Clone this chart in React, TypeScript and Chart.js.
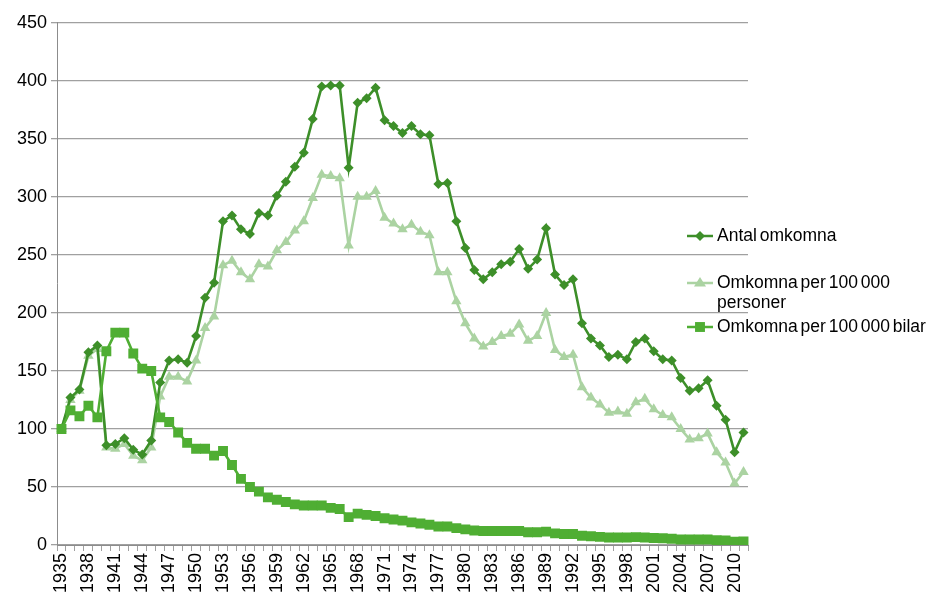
import { useEffect, useRef } from 'react';
import { Chart, registerables } from 'chart.js';

Chart.register(...registerables);

const years = [
  '1935','1936','1937','1938','1939','1940','1941','1942','1943','1944',
  '1945','1946','1947','1948','1949','1950','1951','1952','1953','1954',
  '1955','1956','1957','1958','1959','1960','1961','1962','1963','1964',
  '1965','1966','1967','1968','1969','1970','1971','1972','1973','1974',
  '1975','1976','1977','1978','1979','1980','1981','1982','1983','1984',
  '1985','1986','1987','1988','1989','1990','1991','1992','1993','1994',
  '1995','1996','1997','1998','1999','2000','2001','2002','2003','2004',
  '2005','2006','2007','2008','2009','2010','2011',
];

const antalOmkomna = [
  100, 127, 134, 166, 172, 86, 87, 92, 82, 78,
  90, 140, 159, 160, 157, 180, 213, 226, 279, 284,
  272, 268, 286, 284, 301, 313, 326, 338, 367, 395,
  396, 396, 325, 381, 385, 394, 366, 361, 355, 361,
  354, 353, 311, 312, 279, 256, 237, 229, 235, 242,
  244, 255, 238, 246, 273, 233, 224, 229, 191, 178,
  172, 162, 164, 160, 175, 178, 167, 160, 159, 144,
  133, 135, 142, 120, 108, 80, 97,
];

const perPersoner = [
  100, 125, 133, 163, 169, 84, 83, 87, 77, 73,
  84, 128, 145, 145, 141, 159, 187, 197, 241, 245,
  235, 229, 242, 240, 254, 261, 271, 279, 299, 319,
  318, 316, 258, 300, 300, 305, 282, 277, 272, 276,
  270, 267, 235, 235, 210, 191, 178, 171, 175, 180,
  182, 190, 176, 180, 200, 168, 162, 164, 136, 127,
  121, 114, 115, 113, 123, 126, 117, 112, 110, 100,
  91, 92, 96, 80, 71, 53, 63,
];

const perBilar = [
  100, 116, 111, 120, 110, 167, 183, 183, 165, 152,
  150, 110, 106, 97, 88, 83, 83, 77, 81, 69,
  57, 50, 46, 41, 39, 37, 35, 34, 34, 34,
  32, 31, 24, 27, 26, 25, 23, 22, 21, 19.5,
  18.5, 17.5, 16, 16, 14.5, 13.5, 12.5, 12, 12, 12,
  12, 12, 11, 11, 11.5, 10, 9.5, 9.5, 8, 7.5,
  7, 6.5, 6.5, 6.5, 6.8, 6.5, 6, 5.8, 5.4, 4.8,
  4.8, 4.8, 4.8, 4.2, 4, 2.8, 3.1,
];

const seriesNames = ['Antal omkomna', 'Omkomna per 100 000 personer', 'Omkomna per 100 000 bilar'];
const legendLines = [['Antal omkomna'], ['Omkomna per 100 000', 'personer'], ['Omkomna per 100 000 bilar']];

const C_ANTAL = '#3d8f29';
const C_PERS = '#abd3a2';
const C_BILAR = '#4fae33';
const FONT = '"Liberation Sans", Arial, sans-serif';

function drawMarker(ctx: CanvasRenderingContext2D, style: string, x: number, y: number, r: number) {
  ctx.beginPath();
  if (style === 'rectRot') {
    ctx.moveTo(x, y - r); ctx.lineTo(x + r, y); ctx.lineTo(x, y + r); ctx.lineTo(x - r, y);
  } else if (style === 'triangle') {
    ctx.moveTo(x, y - r); ctx.lineTo(x + r, y + r * 0.6); ctx.lineTo(x - r, y + r * 0.6);
  } else {
    const s = r * Math.SQRT1_2;
    ctx.rect(x - s, y - s, 2 * s, 2 * s);
  }
  ctx.closePath();
  ctx.fill();
}

const sideLegend = {
  id: 'sideLegend',
  afterDraw(chart: any) {
    const ctx: any = chart.ctx;
    const items = [
      { color: C_ANTAL, style: 'rectRot', r: 5, y: 228 },
      { color: C_PERS, style: 'triangle', r: 6, y: 275 },
      { color: C_BILAR, style: 'rect', r: 7, y: 319 },
    ];
    ctx.save();
    ctx.font = '17.5px ' + FONT;
    ctx.textBaseline = 'middle';
    ctx.textAlign = 'left';
    if ('wordSpacing' in ctx) ctx.wordSpacing = '-2px';
    items.forEach((it, i) => {
      ctx.strokeStyle = it.color;
      ctx.fillStyle = it.color;
      ctx.lineWidth = 2.5;
      ctx.beginPath();
      ctx.moveTo(679, it.y);
      ctx.lineTo(705, it.y);
      ctx.stroke();
      drawMarker(ctx, it.style, 692, it.y, it.r);
      ctx.fillStyle = '#000';
      legendLines[i].forEach((t, k) => ctx.fillText(t, 709, it.y + k * 20));
    });
    ctx.restore();
  },
};

export default function App() {
  const ref = useRef<HTMLCanvasElement>(null);
  useEffect(() => {
    if (!ref.current) return;
    Chart.defaults.font.family = FONT;
    const chart = new Chart(ref.current, {
      type: 'line',
      data: {
        labels: years,
        datasets: [
          {
            label: seriesNames[0], data: antalOmkomna, borderColor: C_ANTAL, backgroundColor: C_ANTAL,
            borderWidth: 2.6, pointStyle: 'rectRot', pointRadius: 5, pointBorderWidth: 0, tension: 0, order: 1,
          },
          {
            label: seriesNames[1], data: perPersoner, borderColor: C_PERS, backgroundColor: C_PERS,
            borderWidth: 2.6, pointStyle: 'triangle', pointRadius: 6, pointBorderWidth: 0, tension: 0, order: 2,
          },
          {
            label: seriesNames[2], data: perBilar, borderColor: C_BILAR, backgroundColor: C_BILAR,
            borderWidth: 2.6, pointStyle: 'rect', pointRadius: 7, pointBorderWidth: 0, tension: 0, order: 0,
          },
        ],
      },
      options: {
        responsive: false,
        animation: false,
        layout: { padding: { top: 11, right: 191, left: 0, bottom: 0 } },
        plugins: { legend: { display: false }, tooltip: { enabled: false } },
        scales: {
          x: {
            offset: true,
            grid: { offset: true, drawOnChartArea: false, drawTicks: true, tickLength: 6, color: '#a0a0a0' },
            border: { color: '#8c8c8c', width: 1 },
            ticks: {
              autoSkip: false, maxRotation: 90, minRotation: 90, padding: 2,
              color: '#000', font: { size: 18 },
              callback: (_v: any, i: number) => (i % 3 === 0 ? years[i] : ''),
            },
            afterFit: (s: any) => { s.height = 52; },
          },
          y: {
            min: 0, max: 450,
            ticks: { stepSize: 50, color: '#000', font: { size: 18 }, padding: 4 },
            grid: { color: '#a0a0a0', lineWidth: 1.3, tickLength: 6 },
            border: { color: '#8c8c8c', width: 1 },
            afterFit: (s: any) => { s.width = 49; },
          },
        },
      },
      plugins: [sideLegend],
    });
    return () => chart.destroy();
  }, []);
  return (
    <div style={{ width: 931, height: 589 }}>
      <canvas ref={ref} width={931} height={589} style={{ display: 'block' }} />
    </div>
  );
}
